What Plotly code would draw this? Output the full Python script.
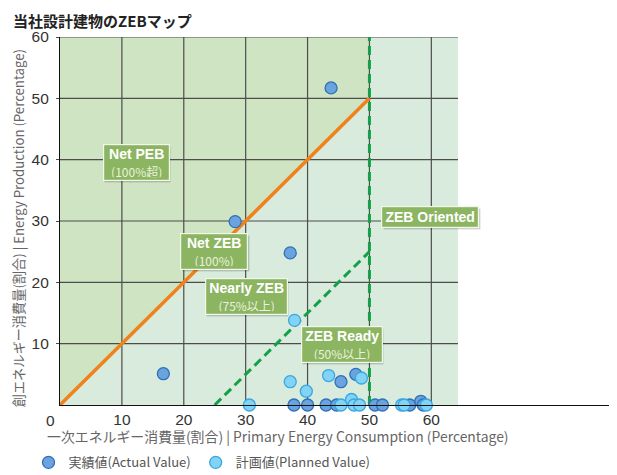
import plotly.graph_objects as go

# 実績値 (actual)
actual_x = [43.8, 28.3, 37.2, 16.7, 47.8, 45.4, 37.8, 40.0, 43.0, 44.7, 50.9, 52.1, 56.5, 58.3, 58.7]
actual_y = [51.7, 29.9, 24.8, 5.1, 5.0, 3.8, 0, 0, 0, 0, 0, 0, 0, 0.6, 0]

# 計画値 (planned)
planned_x = [37.9, 37.2, 43.4, 48.7, 39.8, 30.6, 45.4, 47.1, 47.5, 48.4, 55.2, 55.6, 59.2]
planned_y = [13.8, 3.8, 4.8, 4.4, 2.25, 0, 0, 0.9, 0, 0, 0, 0, 0]

# ZEB boundaries
net_zeb_x = [0, 50]
net_zeb_y = [0, 50]
nearly_x = [25, 50]
nearly_y = [0, 25]
ready_x = [50, 50]
ready_y = [0, 60]

ticks = [10, 20, 30, 40, 50, 60]
x_max = 64.3
y_max = 60

zones = [
    ("Net PEB", "(100%超)", 12.3, 39.5, 59),
    ("Net ZEB", "(100%)", 24.9, 25.0, 60),
    ("Nearly ZEB", "(75%以上)", 30.1, 17.7, 75),
    ("ZEB Ready", "(50%以上)", 45.5, 9.85, 74),
]

FONT = "Noto Sans CJK JP"
NUM_FONT = "Liberation Sans"
DARK_BG = "#cfe4c3"
LIGHT_BG = "#d8ebdc"
GRID = "#4d4d4d"

# page body has an 8px margin, so the figure is drawn 8px smaller and offset
OFF = 8
L, T, B = 59.5, 37, 69.5
PW, PH = 557.5, 368.5


def px(x):
    return (x - L) / PW


def py(y):
    return (T + PH - y) / PH


fig = go.Figure()

fig.add_trace(go.Scatter(x=net_zeb_x, y=net_zeb_y, mode="lines",
                         line=dict(color="#f0821e", width=3.5), showlegend=False, hoverinfo="skip"))
fig.add_trace(go.Scatter(x=nearly_x, y=nearly_y, mode="lines",
                         line=dict(color="#14a048", width=3, dash="9px,5px"), showlegend=False, hoverinfo="skip"))
fig.add_trace(go.Scatter(x=ready_x, y=ready_y, mode="lines",
                         line=dict(color="#14a048", width=3, dash="9px,5px"), showlegend=False, hoverinfo="skip"))

fig.add_trace(go.Scatter(x=actual_x, y=actual_y, mode="markers", name="実績値(Actual Value)",
                         marker=dict(size=12, color="#6ba3de", line=dict(color="#2f71b8", width=1.3)),
                         cliponaxis=False))
fig.add_trace(go.Scatter(x=planned_x, y=planned_y, mode="markers", name="計画値(Planned Value)",
                         marker=dict(size=12, color="#82d4f6", line=dict(color="#3aa7df", width=1.3)),
                         cliponaxis=False))

shapes = [
    dict(type="rect", xref="x", yref="y", x0=0, x1=x_max, y0=0, y1=y_max,
         fillcolor=LIGHT_BG, line_width=0, layer="below"),
    dict(type="path", xref="x", yref="y",
         path=f"M 0 0 L 50 50 L 50 {y_max} L 0 {y_max} Z",
         fillcolor=DARK_BG, line_width=0, layer="below"),
]
for t in ticks:
    shapes.append(dict(type="line", xref="x", yref="y", x0=0, x1=x_max, y0=t, y1=t,
                       line=dict(color=GRID, width=1.2), layer="below"))
    shapes.append(dict(type="line", xref="x", yref="y", x0=t, x1=t, y0=0, y1=y_max,
                       line=dict(color=GRID, width=1.2), layer="below"))

annotations = []


def label_box(text, x, y, w, h):
    # drop shadow, same box size but no text
    annotations.append(dict(x=x, y=y, xref="x", yref="y", text=" ", showarrow=False,
                            width=w, height=h, bgcolor="rgba(0,0,0,0.18)", borderpad=3,
                            borderwidth=1.2, bordercolor="rgba(0,0,0,0)", xshift=1.5, yshift=-2,
                            font=dict(family=NUM_FONT, size=14, color="rgba(0,0,0,0)")))
    annotations.append(dict(x=x, y=y, xref="x", yref="y", text=text, showarrow=False,
                            width=w, height=h, align="center", valign="middle",
                            bgcolor="#8cb562", borderpad=3, borderwidth=1.2,
                            bordercolor="#f2f7ec",
                            font=dict(family=NUM_FONT, size=14, color="white")))


for name, sub, zx, zy, w in zones:
    label_box(f"<b>{name}</b><br><span style='font-size:12px;font-family:\"Noto Sans CJK JP\";color:#eaf2de'>{sub}</span>",
              zx, zy, w, 29)
label_box("<b>ZEB Oriented</b>", 59.8, 30.7, 90, 14)

annotations += [
    dict(x=px(10), y=py(20), xref="paper", yref="paper", xanchor="left", yanchor="middle",
         text="<b>当社設計建物のZEBマップ</b>", showarrow=False,
         font=dict(family=FONT, size=15, color="#222")),
    dict(x=px(18), y=py(229), xref="paper", yref="paper", textangle=-90,
         xanchor="center", yanchor="middle",
         text="創エネルギー消費量(割合) | Energy Production (Percentage)", showarrow=False,
         font=dict(family=FONT, size=13.2, color="#666")),
    dict(x=px(44), y=py(437), xref="paper", yref="paper", xanchor="left", yanchor="middle",
         text="一次エネルギー消費量(割合) | Primary Energy Consumption (Percentage)", showarrow=False,
         font=dict(family=FONT, size=13.9, color="#666")),
    dict(x=px(50), y=py(421), xref="paper", yref="paper", xanchor="center", yanchor="middle",
         text="0", showarrow=False, font=dict(family=NUM_FONT, size=15.5, color="#333")),
]

fig.update_layout(
    width=617 - OFF, height=475 - OFF,
    margin=dict(l=L - OFF, r=0, t=T - OFF, b=B, autoexpand=False),
    paper_bgcolor="white", plot_bgcolor="white",
    shapes=shapes, annotations=annotations,
    showlegend=True,
    legend=dict(orientation="h", x=px(28), y=py(463), xanchor="left", yanchor="middle",
                font=dict(family=FONT, size=13, color="#555"), itemclick=False,
                bgcolor="rgba(0,0,0,0)"),
    xaxis=dict(range=[0, 90], tickvals=ticks, showgrid=False, zeroline=False,
               showline=True, linecolor="#111", linewidth=1.2, ticks="",
               tickfont=dict(family=NUM_FONT, size=15.5, color="#333")),
    yaxis=dict(range=[0, 60], tickvals=ticks, showgrid=False, zeroline=False,
               showline=True, linecolor="#111", linewidth=1.2, ticks="outside",
               ticklen=3, tickcolor=GRID, ticklabelstandoff=4,
               tickfont=dict(family=NUM_FONT, size=15.5, color="#333")),
)

fig.write_html("out.html")
